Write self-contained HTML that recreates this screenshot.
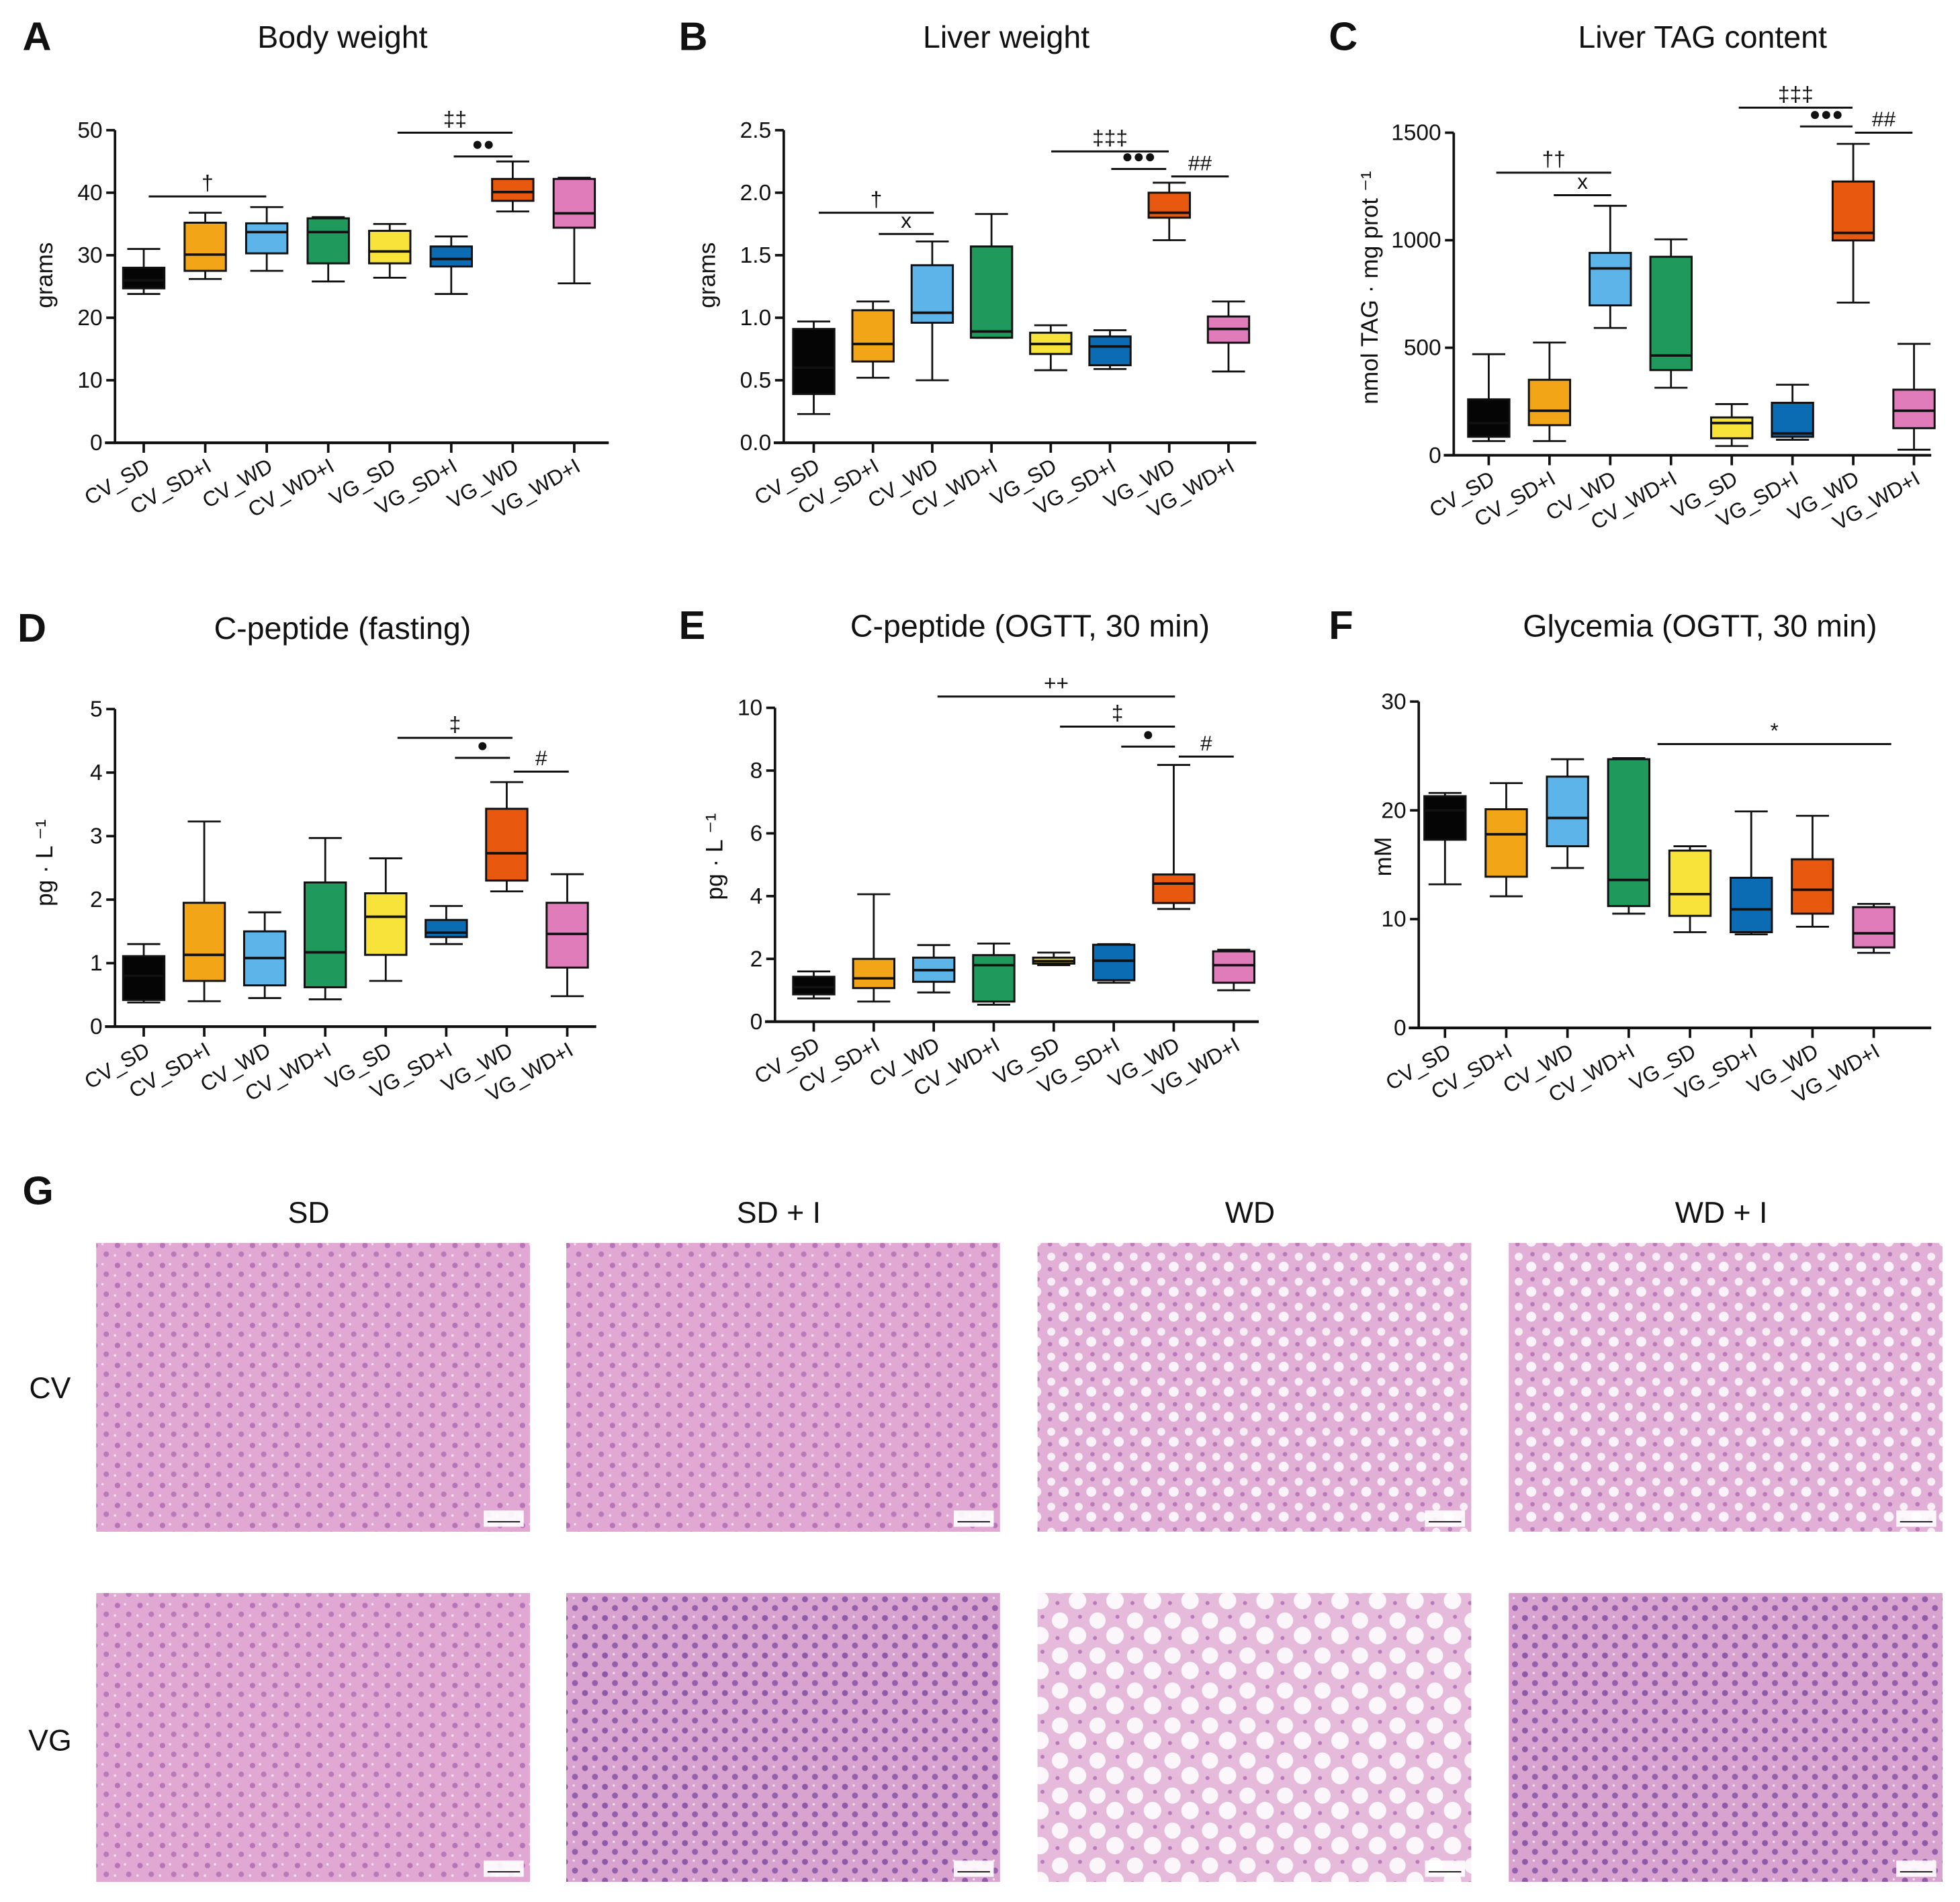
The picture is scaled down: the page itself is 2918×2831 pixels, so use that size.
<!DOCTYPE html>
<html><head><meta charset="utf-8"><style>
html,body{margin:0;padding:0;background:#fff;}
svg{display:block;}
text{font-family:"Liberation Sans",Arial,sans-serif;fill:#111;}
</style></head><body>
<svg id="fig" xmlns="http://www.w3.org/2000/svg" width="2918" height="2831" viewBox="0 0 1568 1521">
<defs>
<pattern id="hist" width="18" height="16" patternUnits="userSpaceOnUse">
<rect width="18" height="16" fill="#e0a8d2"/>
<circle cx="4" cy="4" r="2.2" fill="#b774b7"/>
<circle cx="13" cy="11" r="2.2" fill="#b97ab9"/>
<circle cx="10" cy="3" r="0.9" fill="#f6e4f2"/>
<circle cx="2" cy="12" r="1" fill="#f4dff0"/>
</pattern>
<pattern id="histblue" width="16" height="15" patternUnits="userSpaceOnUse">
<rect width="16" height="15" fill="#d9a3d0"/>
<circle cx="4" cy="4" r="2.4" fill="#8e5aa8"/>
<circle cx="12" cy="11" r="2.4" fill="#9460ab"/>
<circle cx="11" cy="3" r="0.9" fill="#f2def0"/>
</pattern>
<pattern id="histfat" width="22" height="20" patternUnits="userSpaceOnUse">
<rect width="22" height="20" fill="#e2b0d6"/>
<circle cx="5" cy="5" r="3.2" fill="#f7eef6"/>
<circle cx="15" cy="13" r="4" fill="#faf3f9"/>
<circle cx="16" cy="3" r="1.8" fill="#b87ab8"/>
<circle cx="4" cy="15" r="1.8" fill="#b87ab8"/>
</pattern>
<pattern id="histbigfat" width="30" height="28" patternUnits="userSpaceOnUse">
<rect width="30" height="28" fill="#e6bada"/>
<circle cx="8" cy="8" r="6.5" fill="#fbf6fa"/>
<circle cx="22" cy="20" r="7" fill="#fcf7fb"/>
<circle cx="24" cy="5" r="1.6" fill="#b87ab8"/>
<circle cx="6" cy="22" r="1.6" fill="#b87ab8"/>
</pattern>
</defs>
<g id="charts"></g>
<g id="histo"></g>
</svg>
<script>
const categories = ["CV_SD","CV_SD+I","CV_WD","CV_WD+I","VG_SD","VG_SD+I","VG_WD","VG_WD+I"];
const colors = ["#050505","#f2a516","#5db4e9","#1f9a5c","#f8e33a","#0b6cb3","#e8590f","#e07cba"];
// [min, q1, median, q3, max]
const bodyWeight = [[23.8,24.7,26,28,31],[26.2,27.5,30.1,35.2,36.8],[27.5,30.3,33.7,35.1,37.7],[25.8,28.7,33.7,35.9,36.1],[26.4,28.7,30.6,33.9,35],[23.8,28.2,29.4,31.4,33],[37,38.7,40.1,42.2,45],[25.5,34.4,36.7,42.2,42.4]];
const liverWeight = [[0.23,0.39,0.6,0.91,0.97],[0.52,0.65,0.79,1.06,1.13],[0.5,0.96,1.04,1.42,1.61],[0.84,0.84,0.89,1.57,1.83],[0.58,0.71,0.79,0.88,0.94],[0.59,0.62,0.77,0.85,0.9],[1.62,1.8,1.84,2.0,2.08],[0.57,0.8,0.91,1.01,1.13]];
const liverTag = [[66,86,150,260,470],[66,140,207,351,524],[592,697,869,941,1160],[314,396,464,923,1004],[43,79,150,176,238],[72,86,102,244,328],[710,999,1034,1273,1448],[26,126,207,305,518]];
const cpepFast = [[0.38,0.42,0.8,1.11,1.3],[0.4,0.72,1.13,1.95,3.23],[0.45,0.65,1.08,1.5,1.8],[0.43,0.62,1.17,2.27,2.97],[0.72,1.13,1.73,2.1,2.65],[1.3,1.41,1.48,1.68,1.9],[2.13,2.3,2.73,3.43,3.85],[0.48,0.93,1.46,1.95,2.4]];
const cpepOgtt = [[0.74,0.87,1.1,1.43,1.6],[0.64,1.07,1.38,2.0,4.06],[0.93,1.27,1.64,2.04,2.44],[0.54,0.64,1.8,2.12,2.49],[1.8,1.85,1.93,2.04,2.2],[1.24,1.32,1.94,2.45,2.47],[3.59,3.78,4.4,4.69,8.18],[1.0,1.24,1.8,2.24,2.29]];
const glycemia = [[13.2,17.3,20,21.3,21.6],[12.1,13.9,17.8,20.1,22.5],[14.7,16.7,19.3,23.1,24.7],[10.5,11.2,13.6,24.7,24.8],[8.8,10.3,12.3,16.3,16.7],[8.6,8.8,10.9,13.8,19.9],[9.3,10.5,12.7,15.5,19.5],[6.9,7.4,8.7,11.1,11.4]];
const ticksA = ["0","10","20","30","40","50"];
const ticksB = ["0.0","0.5","1.0","1.5","2.0","2.5"];
const ticksC = ["0","500","1000","1500"];
const ticksD = ["0","1","2","3","4","5"];
const ticksE = ["0","2","4","6","8","10"];
const ticksF = ["0","10","20","30"];

const NS="http://www.w3.org/2000/svg";
function mk(tag,attrs,parent){const e=document.createElementNS(NS,tag);for(const k in attrs)e.setAttribute(k,attrs[k]);if(parent)parent.appendChild(e);return e;}

const panels=[
 {id:"a",letter:"A",title:"Body weight",tx:274,ty:38,lx:18,ly:40,ax:92,axEnd:487,y0:354,yTop:104,vmax:50,x0:115,step:49.2,data:bodyWeight,ticks:ticksA,ytitle:"grams",ytx:42,yty:220,
  sig:[[119,213,157,"†"],[318,410,106,"‡‡"],[363,410,125,"●●"]]},
 {id:"b",letter:"B",title:"Liver weight",tx:805,ty:38,lx:543,ly:40,ax:627,axEnd:1005,y0:354,yTop:104,vmax:2.5,x0:651,step:47.4,data:liverWeight,ticks:ticksB,ytitle:"grams",ytx:572,yty:220,
  sig:[[655,747,170,"†"],[703,747,187,"x"],[841,935,121,"‡‡‡"],[889,933,135,"●●●"],[937,983,141,"##"]]},
 {id:"c",letter:"C",title:"Liver TAG content",tx:1362,ty:38,lx:1063,ly:40,ax:1163,axEnd:1545,y0:364,yTop:106,vmax:1500,x0:1191,step:48.6,data:liverTag,ticks:ticksC,ytitle:"nmol TAG · mg prot ⁻¹",ytx:1102,yty:230,
  sig:[[1197,1289,138,"††"],[1243,1289,156,"x"],[1391,1482,86,"‡‡‡"],[1440,1482,101,"●●●"],[1484,1530,106,"##"]]},
 {id:"d",letter:"D",title:"C-peptide (fasting)",tx:274,ty:511,lx:14,ly:513,ax:92,axEnd:477,y0:821,yTop:567,vmax:5,x0:115,step:48.4,data:cpepFast,ticks:ticksD,ytitle:"pg · L ⁻¹",ytx:42,yty:690,
  sig:[[318,410,590,"‡"],[364,408,606,"●"],[411,455,617,"#"]]},
 {id:"e",letter:"E",title:"C-peptide (OGTT, 30 min)",tx:824,ty:509,lx:543,ly:511,ax:620,axEnd:1007,y0:817,yTop:566,vmax:10,x0:651,step:48,data:cpepOgtt,ticks:ticksE,ytitle:"pg · L ⁻¹",ytx:578,yty:685,
  sig:[[750,940,557,"++"],[848,940,581,"‡"],[897,940,597,"●"],[943,987,605,"#"]]},
 {id:"f",letter:"F",title:"Glycemia (OGTT, 30 min)",tx:1360,ty:509,lx:1063,ly:511,ax:1135,axEnd:1545,y0:822,yTop:561,vmax:30,x0:1156,step:49,data:glycemia,ticks:ticksF,ytitle:"mM",ytx:1113,yty:685,
  sig:[[1326,1513,595,"*"]]}
];

const root=document.getElementById('charts');
panels.forEach(p=>{
  const g=mk('g',{},root);
  
  
  const yS=v=>p.y0-(v/p.vmax)*(p.y0-p.yTop);
  const xS=i=>p.x0+i*p.step;
  const L=mk('text',{x:p.lx,y:p.ly,'font-size':32,'font-weight':'bold'},g);L.textContent=p.letter;
  
  
  const T=mk('text',{x:p.tx,y:p.ty,'font-size':25,'text-anchor':'middle'},g);T.textContent=p.title;
  
  
  const ya=mk('line',{x1:p.ax,y1:p.yTop,x2:p.ax,y2:p.y0,stroke:'#111','stroke-width':2},g);
  
  
  const xa=mk('line',{x1:p.ax-8,y1:p.y0,x2:p.axEnd,y2:p.y0,stroke:'#111','stroke-width':2.2},g);
  
  
  const n=p.ticks.length;
  p.ticks.forEach((t,i)=>{
    const v=p.vmax*i/(n-1),y=yS(v);
    mk('line',{x1:p.ax-7,y1:y,x2:p.ax,y2:y,stroke:'#111','stroke-width':2},g);
    const tl=mk('text',{x:p.ax-10,y:y+6,'font-size':18,'text-anchor':'end'},g);tl.textContent=t;
    
    
  });
  const yt=mk('text',{x:p.ytx,y:p.yty,'font-size':19,'text-anchor':'middle',transform:`rotate(-90 ${p.ytx} ${p.yty})`},g);yt.textContent=p.ytitle;
  
  
  categories.forEach((c,i)=>{
    const x=xS(i);
    mk('line',{x1:x,y1:p.y0,x2:x,y2:p.y0+8,stroke:'#111','stroke-width':2},g);
    const lx=x+6,ly=p.y0+22;
    const cl=mk('text',{x:lx,y:ly,'font-size':17,'text-anchor':'end',transform:`rotate(-30 ${lx} ${ly})`},g);cl.textContent=c;
    
    
    const d=p.data[i];const w=33;
    const bg=mk('g',{},g);
    
    
    const st={stroke:'#111','stroke-width':1.5};
    mk('line',Object.assign({x1:x,y1:yS(d[4]),x2:x,y2:yS(d[3])},st),bg);
    mk('line',Object.assign({x1:x,y1:yS(d[1]),x2:x,y2:yS(d[0])},st),bg);
    mk('line',Object.assign({x1:x-w*0.4,y1:yS(d[4]),x2:x+w*0.4,y2:yS(d[4])},st),bg);
    mk('line',Object.assign({x1:x-w*0.4,y1:yS(d[0]),x2:x+w*0.4,y2:yS(d[0])},st),bg);
    mk('rect',{x:x-w/2,y:yS(d[3]),width:w,height:Math.max(1,yS(d[1])-yS(d[3])),fill:colors[i],stroke:'#111','stroke-width':1.6},bg);
    mk('line',{x1:x-w/2,y1:yS(d[2]),x2:x+w/2,y2:yS(d[2]),stroke:'#111','stroke-width':2},bg);
  });
  p.sig.forEach(s=>{
    const sg=mk('g',{},g);
    
    
    mk('line',{x1:s[0],y1:s[2],x2:s[1],y2:s[2],stroke:'#111','stroke-width':1.6},sg);
    const isDot=s[3].indexOf('●')>=0;
    const fs=isDot?15:17;
    const st=mk('text',{x:(s[0]+s[1])/2,y:s[2]-5,'font-size':fs,'text-anchor':'middle','font-family':isDot?'"DejaVu Sans",sans-serif':'"Liberation Sans",sans-serif'},sg);st.textContent=s[3];
  });
});

// Histology
const H=document.getElementById('histo');
const gl=mk('text',{x:18,y:963,'font-size':32,'font-weight':'bold'},H);gl.textContent='G';


const colNames=["SD","SD + I","WD","WD + I"];
const colX=[77,453,830,1207];
const fills={CV:['url(#hist)','url(#hist)','url(#histfat)','url(#histfat)'],VG:['url(#hist)','url(#histblue)','url(#histbigfat)','url(#histblue)']};
colNames.forEach((c,i)=>{
  const t=mk('text',{x:colX[i]+170,y:978,'font-size':24,'text-anchor':'middle'},H);t.textContent=c;
  
  
});
[["CV",994,1118],["VG",1274,1400]].forEach(r=>{
  const t=mk('text',{x:40,y:r[2],'font-size':24,'text-anchor':'middle'},H);t.textContent=r[0];
  
  
  colX.forEach((x,i)=>{
    const im=mk('rect',{x:x,y:r[1],width:347,height:231,fill:fills[r[0]][i]},H);
    
    
    mk('rect',{x:x+310,y:r[1]+214,width:32,height:13,fill:'#fff',opacity:0.9},H);
    mk('line',{x1:x+313,y1:r[1]+223,x2:x+339,y2:r[1]+223,stroke:'#111','stroke-width':1},H);
  });
});
</script>
</body></html>
